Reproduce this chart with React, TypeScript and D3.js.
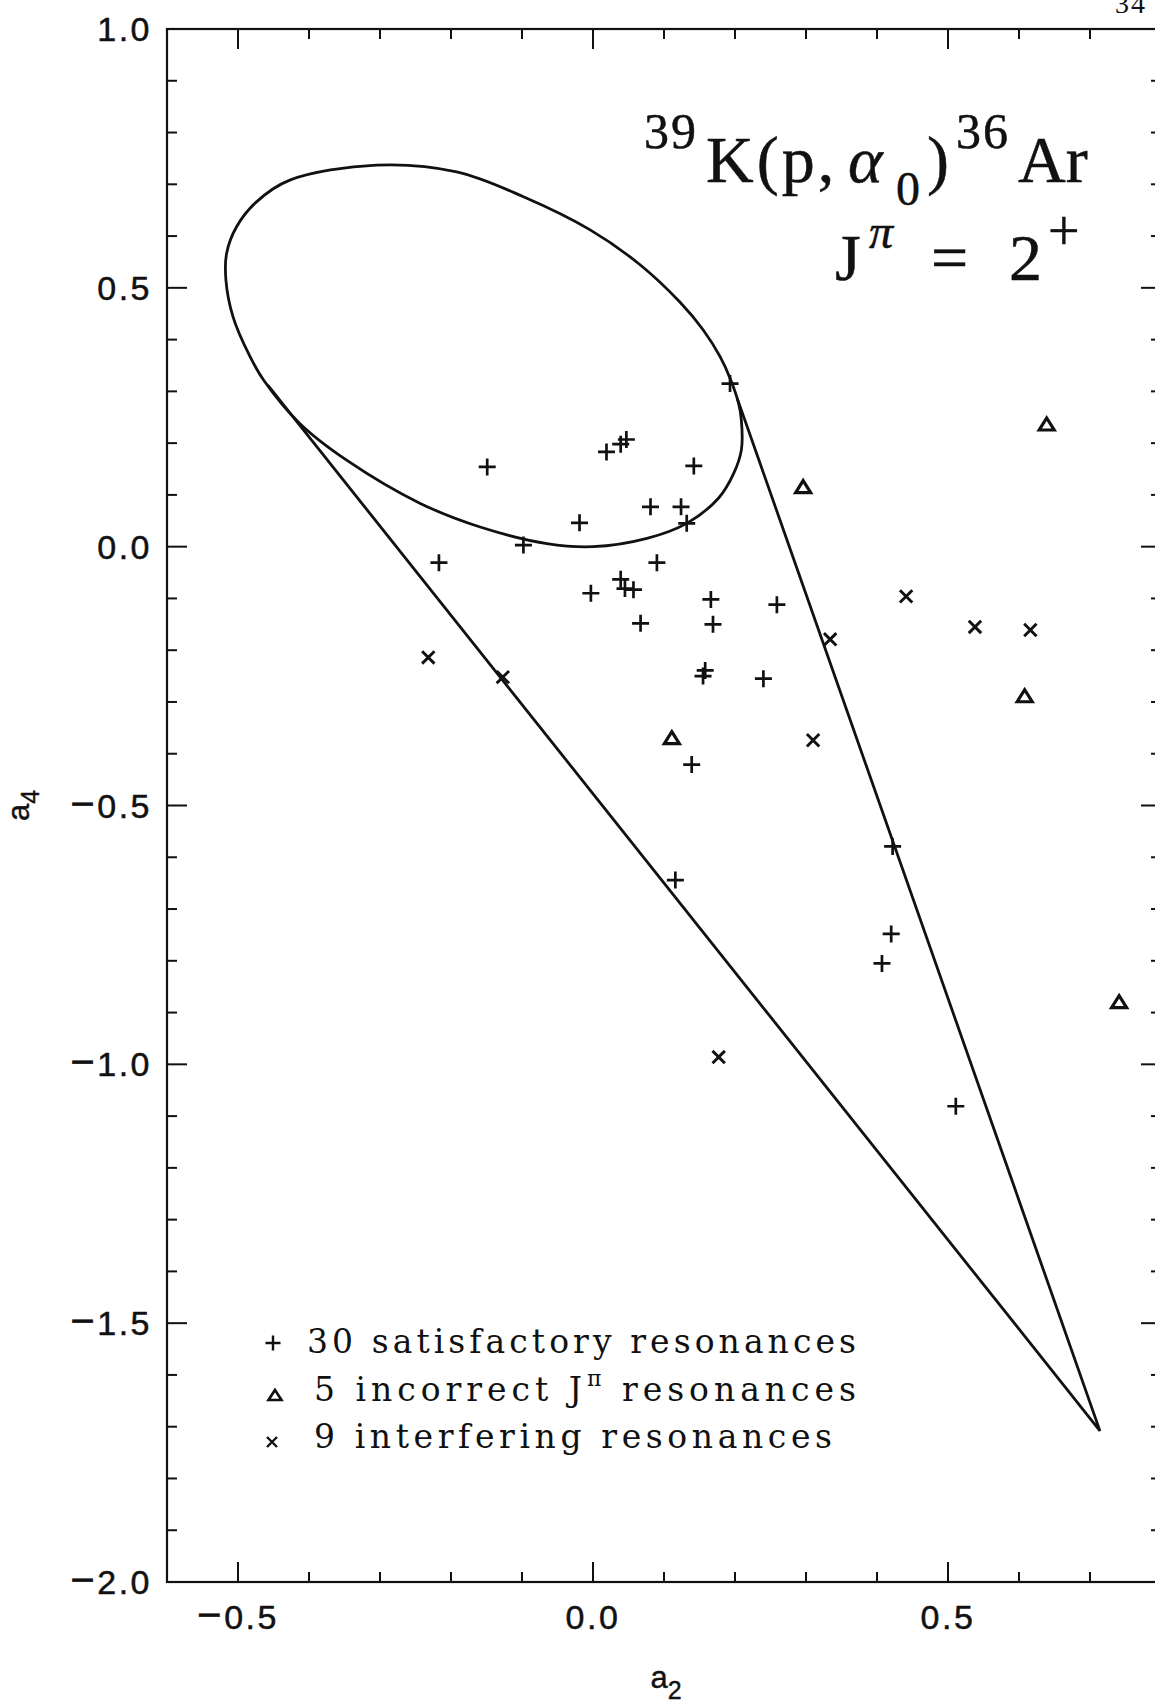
import React from 'react';
import * as d3 from 'd3';

// Resonance coefficients (a2, a4)
const satisfactory: [number, number][] = [
  [0.193, 0.315], [0.019, 0.183], [0.039, 0.198], [0.047, 0.207],
  [-0.149, 0.154], [0.142, 0.156], [0.081, 0.077], [0.124, 0.077],
  [0.132, 0.045], [-0.019, 0.046], [-0.098, 0.003], [-0.217, -0.031],
  [0.090, -0.031], [0.039, -0.063], [0.045, -0.081], [0.057, -0.083],
  [-0.003, -0.090], [0.166, -0.102], [0.259, -0.112], [0.067, -0.148],
  [0.169, -0.150], [0.158, -0.239], [0.155, -0.250], [0.240, -0.255],
  [0.139, -0.421], [0.422, -0.579], [0.116, -0.644], [0.420, -0.748],
  [0.407, -0.805], [0.511, -1.081],
];

const incorrectJpi: [number, number][] = [
  [0.639, 0.237], [0.296, 0.116], [0.608, -0.288], [0.111, -0.369], [0.741, -0.879],
];

const interfering: [number, number][] = [
  [-0.232, -0.214], [-0.127, -0.252], [0.441, -0.096], [0.538, -0.155],
  [0.616, -0.161], [0.334, -0.179], [0.310, -0.374], [0.177, -0.986],
];

// Boundary of the allowed region: ellipse outline and tangent cone
const ellipseOutline: [number, number][] = [
  [-0.305, 0.737], [-0.192, 0.724], [-0.098, 0.676], [-0.004, 0.612],
  [0.065, 0.546], [0.122, 0.473], [0.155, 0.419], [0.179, 0.367],
  [0.194, 0.322], [0.205, 0.277], [0.209, 0.244], [0.209, 0.187],
  [0.198, 0.141], [0.177, 0.094], [0.132, 0.045], [0.076, 0.016],
  [0.0, 0.0], [-0.065, 0.006], [-0.159, 0.038], [-0.244, 0.084],
  [-0.347, 0.167], [-0.413, 0.238], [-0.464, 0.322], [-0.483, 0.367],
  [-0.507, 0.444], [-0.517, 0.515], [-0.516, 0.567], [-0.502, 0.618],
  [-0.474, 0.666], [-0.427, 0.708],
];
const coneEdges: [number, number][] = [[-0.458, 0.312], [0.714, -1.708], [0.203, 0.287]];

const xDomain: [number, number] = [-0.6, 0.8];
const yDomain: [number, number] = [-2.0, 1.0];
const xMajorTicks = [-0.5, 0.0, 0.5];
const yMajorTicks = [1.0, 0.5, 0.0, -0.5, -1.0, -1.5, -2.0];

const legendLabels = ['30 satisfactory resonances', '5 incorrect J', ' resonances', '9 interfering resonances'];

const W = 1155;
const H = 1704;
const INK = '#111';

const x = d3.scaleLinear().domain(xDomain).range([167, 1161]);
const y = d3.scaleLinear().domain(yDomain).range([1582, 29]);

const isMajor = (v: number) => Math.abs(v * 2 - Math.round(v * 2)) < 1e-6;

// tick label with a slightly enlarged minus sign
const TickText = ({ v }: { v: number }) => (
  <>
    {v < 0 ? <tspan fontSize={42}>{'\u2212'}</tspan> : null}
    {Math.abs(v).toFixed(1)}
  </>
);

const plusPath = (s: number) => `M${-s},0H${s}M0,${-s}V${s}`;
const crossPath = (s: number) => `M${-s},${-s}L${s},${s}M${-s},${s}L${s},${-s}`;
const triPath = (w: number, h: number) => `M0,${-h / 2}L${w / 2},${h / 2}L${-w / 2},${h / 2}Z`;

export default function App() {
  const xMinor = d3.range(Math.round(xDomain[0] * 10), Math.round(xDomain[1] * 10) + 1).map((i) => i / 10);
  const yMinor = d3.range(Math.round(yDomain[0] * 10), Math.round(yDomain[1] * 10) + 1).map((i) => i / 10);

  const [x0, x1] = x.range();
  const [y0, y1] = y.range();

  const outline = d3
    .line<[number, number]>()
    .x((d) => x(d[0]))
    .y((d) => y(d[1]))
    .curve(d3.curveCatmullRomClosed.alpha(0.5))(ellipseOutline) as string;

  const cone = d3
    .line<[number, number]>()
    .x((d) => x(d[0]))
    .y((d) => y(d[1]))(coneEdges) as string;

  const sans = "'Liberation Sans', Arial, Helvetica, sans-serif";
  const serif = "'Liberation Serif', 'Times New Roman', serif";
  const textSerif = "'DejaVu Serif', 'Liberation Serif', serif";

  return (
    <svg
      width={W}
      height={H}
      viewBox={`0 0 ${W} ${H}`}
      style={{ position: 'absolute', left: 0, top: 0, background: '#fff' }}
    >
      <rect x={0} y={0} width={W} height={H} fill="#fff" />

      {/* page number */}
      <text x={1115} y={13} fontFamily={serif} fontSize={28} letterSpacing={2} fill={INK}>
        34
      </text>

      {/* frame */}
      <rect x={x0} y={y1} width={x1 - x0} height={y0 - y1} fill="none" stroke={INK} strokeWidth={2.2} />

      {/* ticks on all four sides */}
      <g stroke={INK} strokeWidth={2}>
        {xMinor.map((v) => {
          const len = isMajor(v) ? 20 : 10;
          return (
            <g key={'xt' + v}>
              <line x1={x(v)} x2={x(v)} y1={y0} y2={y0 - len} />
              <line x1={x(v)} x2={x(v)} y1={y1} y2={y1 + len} />
            </g>
          );
        })}
        {yMinor.map((v) => {
          const len = isMajor(v) ? 20 : 10;
          return (
            <g key={'yt' + v}>
              <line x1={x0} x2={x0 + len} y1={y(v)} y2={y(v)} />
              <line x1={x1} x2={x1 - len} y1={y(v)} y2={y(v)} />
            </g>
          );
        })}
      </g>

      {/* tick labels */}
      <g fontFamily={sans} fontSize={34} fill={INK} stroke={INK} strokeWidth={0.5} letterSpacing={2.5}>
        {xMajorTicks.map((v) => (
          <text key={'xl' + v} x={x(v)} y={1629} textAnchor="middle">
            <TickText v={v} />
          </text>
        ))}
        {yMajorTicks.map((v) => (
          <text key={'yl' + v} x={152} y={y(v) + 12} textAnchor="end">
            <TickText v={v} />
          </text>
        ))}
      </g>

      {/* axis titles */}
      <text x={666} y={1688} textAnchor="middle" fontFamily={sans} fontSize={31} fill={INK} stroke={INK} strokeWidth={0.4}>
        a<tspan fontSize={25} dy={11}>2</tspan>
      </text>
      <text
        transform={`translate(29, ${(y0 + y1) / 2}) rotate(-90)`}
        textAnchor="middle"
        fontFamily={sans}
        fontSize={31}
        fill={INK}
        stroke={INK}
        strokeWidth={0.4}
      >
        a<tspan fontSize={25} dy={10}>4</tspan>
      </text>

      {/* allowed region boundary */}
      <path d={outline} fill="none" stroke={INK} strokeWidth={2.8} />
      <path d={cone} fill="none" stroke={INK} strokeWidth={2.8} strokeLinejoin="miter" />

      {/* data markers */}
      <g stroke={INK} fill="none">
        {satisfactory.map((d, i) => (
          <path key={'p' + i} d={plusPath(8.5)} transform={`translate(${x(d[0])},${y(d[1])})`} strokeWidth={2.7} />
        ))}
        {incorrectJpi.map((d, i) => (
          <path key={'t' + i} d={triPath(15, 12)} transform={`translate(${x(d[0])},${y(d[1])})`} strokeWidth={3.2} />
        ))}
        {interfering.map((d, i) => (
          <path key={'c' + i} d={crossPath(6.2)} transform={`translate(${x(d[0])},${y(d[1])})`} strokeWidth={2.9} />
        ))}
      </g>

      {/* reaction label */}
      <g fontFamily={serif} fill={INK} stroke={INK} strokeWidth={0.5}>
        <text x={644} y={148} fontSize={50} letterSpacing={2}>39</text>
        <text x={706} y={182} fontSize={66} letterSpacing={3}>K(p,</text>
        <text x={848} y={182} fontSize={66} fontStyle="italic">α</text>
        <text x={896} y={205} fontSize={48}>0</text>
        <text x={927} y={182} fontSize={66}>)</text>
        <text x={956} y={148} fontSize={50} letterSpacing={2}>36</text>
        <text x={1018} y={182} fontSize={66}>Ar</text>

        <text x={835} y={280} fontSize={66}>J</text>
        <text x={869} y={248} fontSize={48} fontStyle="italic">π</text>
        <text x={931} y={280} fontSize={66}>=</text>
        <text x={1009} y={280} fontSize={66}>2</text>
        <text x={1048} y={250} fontSize={56}>+</text>
      </g>

      {/* legend */}
      <g stroke={INK} fill="none">
        <path d={plusPath(7.5)} transform="translate(273,1343)" strokeWidth={2.4} />
        <path d={triPath(13, 10)} transform="translate(275,1395)" strokeWidth={2.6} />
        <path d={crossPath(5)} transform="translate(272,1442)" strokeWidth={2.4} />
      </g>
      <g fontFamily={textSerif} fontSize={33} fill={INK}>
        <text x={307} y={1353} textLength={549} lengthAdjust="spacing">
          {legendLabels[0]}
        </text>
        <text x={314} y={1401} textLength={542} lengthAdjust="spacing">
          {legendLabels[1]}
          <tspan dy={-15} fontSize={22}>π</tspan>
          <tspan dy={15}>{legendLabels[2]}</tspan>
        </text>
        <text x={314} y={1448} textLength={518} lengthAdjust="spacing">
          {legendLabels[3]}
        </text>
      </g>
    </svg>
  );
}
